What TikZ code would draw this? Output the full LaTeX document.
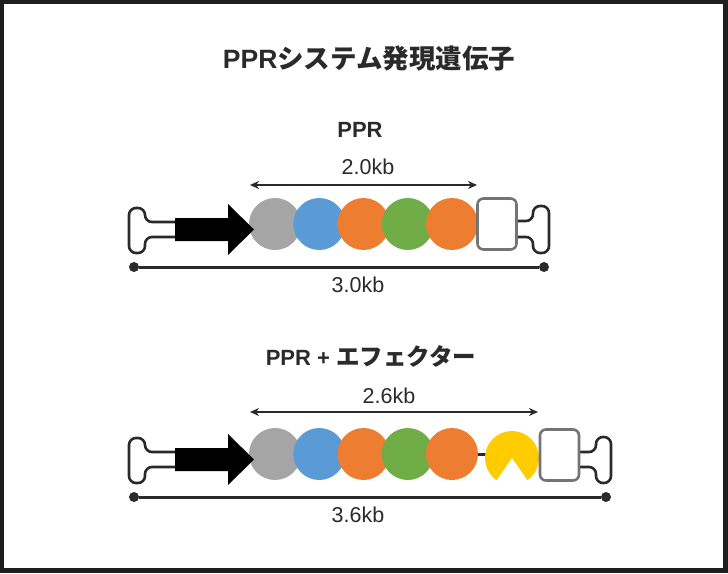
\documentclass[tikz,border=0pt]{standalone}
\usepackage{fontspec}
\setmainfont{Liberation Sans}
\newfontfamily\cjk{Noto Sans CJK JP}
\usetikzlibrary{arrows.meta}

\definecolor{cdark}{HTML}{2A2A2A}
\definecolor{cframe}{HTML}{1E1E1E}
\definecolor{cbox}{HTML}{747474}
\definecolor{cgray}{HTML}{A5A5A5}
\definecolor{cblue}{HTML}{5B9BD5}
\definecolor{corange}{HTML}{ED7D31}
\definecolor{cgreen}{HTML}{70AD47}
\definecolor{cyellow}{HTML}{FFCC00}

\begin{document}
\begin{tikzpicture}[x=1pt,y=-1pt,
    dom/.style={circle,minimum size=52pt,inner sep=0pt},
    endbox/.style={draw=cbox,line width=2.6pt,rounded corners=6pt,fill=white,
                   minimum width=39pt,minimum height=51pt,inner sep=0pt},
    term/.style={draw=cdark,line width=2.6pt,rounded corners=7pt},
    dim/.style={draw=cdark,line width=2.4pt,{Stealth[length=9pt,width=8pt]}-{Stealth[length=9pt,width=8pt]}},
    base/.style={draw=cdark,line width=3pt},
    dot/.style={circle,fill=cdark,minimum size=10pt,inner sep=0pt},
    lbl/.style={font=\fontsize{21.5}{26}\selectfont,text=cdark},
    head/.style={font=\fontsize{22}{26}\selectfont\bfseries,text=cdark}]
                \useasboundingbox (0,0) rectangle (728,573);
                \draw[cframe,line width=4.5pt] (2.2,2.2) rectangle (725.5,570.5);

                % タイトル
                \node[head,font=\fontsize{26.5}{31}\selectfont\bfseries] (title) at (369,59) {PPR\cjk システム発現遺伝子};
                \node[head] (h1) at (360,130) {PPR};
                \node[head] (h2) at (371,356) {PPR + {\cjk\fontsize{23.5}{28}\selectfont エフェクター}};

                % 長さ
                \coordinate (s1) at (250,185);
                \coordinate (e1) at (477,185);
                \coordinate (s2) at (250,412);
                \coordinate (e2) at (538,412);
                \draw[dim] (s1) -- (e1);
                \draw[dim] (s2) -- (e2);
                \node[lbl] (k1) at (368,167) {2.0kb};
                \node[lbl] (k2) at (389,396) {2.6kb};

                % 右端ターミネーター
                \draw[term] (515,221) -- (533,221) -- (533,206) -- (549,206) -- (549,253) -- (533,253) -- (533,237) -- (515,237);
                \draw[term] (577,452) -- (596,452) -- (596,437) -- (611,437) -- (611,483) -- (596,483) -- (596,467) -- (577,467);

                % エフェクターへのリンカー
                \coordinate (eff) at (512,454);
                \draw[base] (452,454) -- (eff);

                % ドメイン
                \foreach \r/\dy in {1/0,2/230} {
                    \draw[term] (177,{222+\dy}) -- (145,{222+\dy}) -- (145,{208+\dy}) -- (129,{208+\dy})
                        -- (129,{253+\dy}) -- (145,{253+\dy}) -- (145,{237+\dy}) -- (177,{237+\dy});
                    \foreach \c [count=\i] in {cgray,cblue,corange,cgreen,corange}
                        \node[dom,fill=\c] (c\r-\i) at ({275+44.25*(\i-1)},{224+\dy}) {};
                    \fill[black] (175,{218+\dy}) -- (228,{218+\dy}) -- (228,{204+\dy}) -- (254,{229.5+\dy})
                        -- (228,{255+\dy}) -- (228,{241+\dy}) -- (175,{241+\dy}) -- cycle;
                }
                \fill[cyellow] (512,458) -- ++(55:27) arc[start angle=55,end angle=-235,radius=27] -- cycle;

                % 終端ボックス
                \node[endbox] (b1) at (497,224) {};
                \node[endbox] (b2) at (559.5,455) {};

                % 全長
                \node[dot] (d1) at (134,267) {};
                \node[dot] (f1) at (544,267) {};
                \node[dot] (d2) at (134,497) {};
                \node[dot] (f2) at (606,497) {};
                \draw[base] (d1) -- (f1);
                \draw[base] (d2) -- (f2);
                \node[lbl] (t1) at (358,285) {3.0kb};
                \node[lbl] (t2) at (358,515) {3.6kb};
            \end{tikzpicture}
\end{document}
